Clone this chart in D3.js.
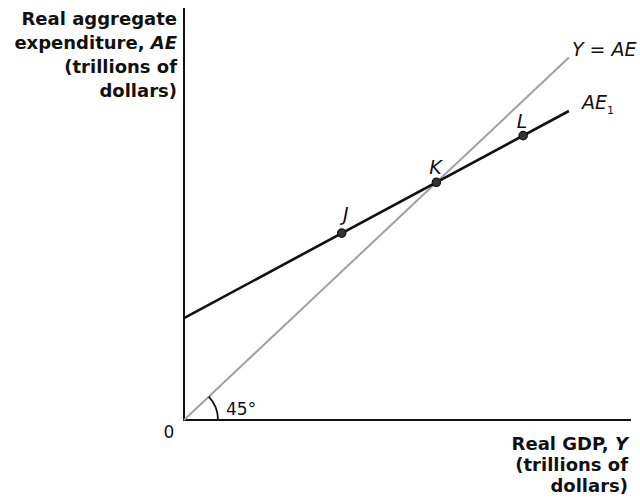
<!DOCTYPE html>
<html>
<head>
<meta charset="utf-8">
<script src="https://cdn.jsdelivr.net/npm/d3@7"></script>
<style>
  html, body { margin: 0; padding: 0; background: #fff; }
  svg { display: block; }
  .lab { font-family: "DejaVu Sans", sans-serif; font-weight: 700; font-size: 18px; fill: #111; }
  .it { font-family: "DejaVu Sans", sans-serif; font-style: italic; font-size: 19px; fill: #111; }
  .reg { font-family: "DejaVu Sans", sans-serif; font-size: 17px; fill: #111; }
</style>
</head>
<body>
<svg id="chart" width="640" height="504"></svg>
<script>
// ---- data ----
const yEqualsAE = [[0, 0], [12.2, 12.2]];          // 45-degree line
const ae1Line = [[0, 3.43], [12.2, 10.4]];         // AE1 line
const pointLabels = ["J", "K", "L"];
const pointX = [5, 8, 10.75];
const pointY = [6.29, 8, 9.57];
const yAxisTitle = ["Real aggregate", "expenditure, AE", "(trillions of", "dollars)"];
const xAxisTitle = ["Real GDP, Y", "(trillions of", "dollars)"];
const originLabel = "0";
const angleLabel = "45°";

// ---- layout ----
const svg = d3.select("#chart");
const x = d3.scaleLinear().domain([0, 14.2]).range([184, 632]);
const y = d3.scaleLinear().domain([0, 13.8]).range([420, 10]);

// axes
svg.append("line").attr("x1", x(0)).attr("x2", x(0)).attr("y1", 8).attr("y2", y(0) + 1)
  .attr("stroke", "#111").attr("stroke-width", 2);
svg.append("line").attr("x1", x(0) - 1).attr("x2", 631).attr("y1", y(0)).attr("y2", y(0))
  .attr("stroke", "#111").attr("stroke-width", 2);

const line = d3.line().x(d => x(d[0])).y(d => y(d[1]));

// 45 deg line
svg.append("path").attr("d", line(yEqualsAE)).attr("fill", "none")
  .attr("stroke", "#a0a0a0").attr("stroke-width", 2);

// AE1
svg.append("path").attr("d", line(ae1Line)).attr("fill", "none")
  .attr("stroke", "#111").attr("stroke-width", 2.6);

// angle arc
const r = 34;
const ang = Math.atan2(y(0) - y(yEqualsAE[1][1]), x(yEqualsAE[1][0]) - x(0));
svg.append("path")
  .attr("d", `M${x(0) + r},${y(0)} A${r},${r} 0 0 0 ${x(0) + r * Math.cos(ang)},${y(0) - r * Math.sin(ang)}`)
  .attr("fill", "none").attr("stroke", "#111").attr("stroke-width", 1.8);
svg.append("text").attr("class", "reg").attr("x", 226).attr("y", 415).text(angleLabel);

// points
const labOff = [[4, -12], [-1, -8], [-1, -8]];
pointLabels.forEach((lab, i) => {
  svg.append("circle").attr("cx", x(pointX[i])).attr("cy", y(pointY[i])).attr("r", 4.2)
    .attr("fill", "#333").attr("stroke", "#111").attr("stroke-width", 1.2);
  svg.append("text").attr("class", "it").attr("text-anchor", "middle")
    .attr("x", x(pointX[i]) + labOff[i][0]).attr("y", y(pointY[i]) + labOff[i][1]).text(lab);
});

// line labels
const t1 = svg.append("text").attr("class", "it").attr("x", x(yEqualsAE[1][0]) + 3).attr("y", y(yEqualsAE[1][1]) - 2);
t1.append("tspan").text("Y");
t1.append("tspan").attr("font-style", "normal").text(" = ");
t1.append("tspan").text("AE");

const t2 = svg.append("text").attr("class", "it").attr("x", x(ae1Line[1][0]) + 13).attr("y", y(ae1Line[1][1]) - 2);
t2.append("tspan").text("AE");
t2.append("tspan").attr("font-style", "normal").attr("font-size", "11px").attr("dy", 5).text("1");

// axis titles
yAxisTitle.forEach((s, i) => {
  const t = svg.append("text").attr("class", "lab").attr("text-anchor", "end")
    .attr("x", 177).attr("y", 25 + i * 24);
  if (s.endsWith("AE")) {
    t.append("tspan").text(s.slice(0, -2));
    t.append("tspan").attr("font-style", "italic").text("AE");
  } else t.text(s);
});
xAxisTitle.forEach((s, i) => {
  const t = svg.append("text").attr("class", "lab").attr("text-anchor", "end")
    .attr("x", 628).attr("y", 450 + i * 21).attr("font-size", "17px");
  if (s.endsWith("Y")) {
    t.append("tspan").text(s.slice(0, -1));
    t.append("tspan").attr("font-style", "italic").text("Y");
  } else t.text(s);
});

svg.append("text").attr("class", "reg").attr("x", 169).attr("y", 438)
  .attr("text-anchor", "middle").attr("font-size", "17px").text(originLabel);
</script>
</body>
</html>
